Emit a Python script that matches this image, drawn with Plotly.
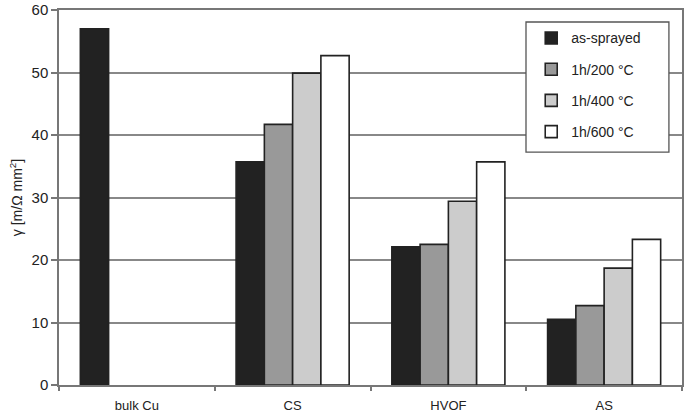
import plotly.graph_objects as go

categories = ["bulk Cu", "CS", "HVOF", "AS"]
series_names = ["as-sprayed", "1h/200 °C", "1h/400 °C", "1h/600 °C"]
as_sprayed = [57.0, 35.7, 22.1, 10.5]
h200 = [None, 41.7, 22.5, 12.7]
h400 = [None, 49.9, 29.4, 18.7]
h600 = [None, 52.7, 35.7, 23.3]
y_ticks = [0, 10, 20, 30, 40, 50, 60]

series_values = [as_sprayed, h200, h400, h600]
colors = ["#222222", "#999999", "#cccccc", "#ffffff"]

fig = go.Figure()
for i, (name, vals, col) in enumerate(zip(series_names, series_values, colors)):
    fig.add_trace(go.Bar(
        x=categories, y=vals, name=name,
        marker=dict(color=col, line=dict(color="#222222", width=1.6)),
        legendgroup=f"g{i}",
    ))

font_family = "Liberation Sans, Arial, sans-serif"
fig.update_layout(
    width=685, height=419,
    margin=dict(l=59, r=3, t=10, b=34),
    paper_bgcolor="white", plot_bgcolor="white",
    barmode="group", bargap=0.274, bargroupgap=0,
    font=dict(family=font_family, color="#222222"),
    legend=dict(
        x=0.758, y=0.967, xanchor="left", yanchor="top",
        borderwidth=0, bgcolor="rgba(0,0,0,0)",
        font=dict(size=14, color="#222222"),
        traceorder="grouped", tracegroupgap=10,
        itemwidth=30,
    ),
    showlegend=True,
    shapes=[dict(
        type="rect", xref="paper", yref="paper",
        x0=0.7496, x1=0.979, y0=0.621, y1=0.968,
        line=dict(color="#555555", width=1.3), fillcolor="white", layer="above",
    )],
)
fig.update_yaxes(
    range=[0, 60], tickvals=y_ticks, ticks="outside", ticklen=6,
    tickcolor="#777777", tickwidth=1.5,
    showline=True, linecolor="#777777", linewidth=1.5, mirror=True,
    showgrid=True, gridcolor="#888888", gridwidth=1.5,
    tickfont=dict(size=15, color="#222222", family=font_family),
    title=dict(text="γ [m/Ω mm<sup>2</sup>]", font=dict(size=14, color="#222222"), standoff=6),
    zeroline=False, automargin=False,
)
fig.update_xaxes(
    type="category", ticks="outside", tickson="boundaries", ticklen=4,
    tickcolor="#777777", tickwidth=1.5,
    showline=True, linecolor="#777777", linewidth=1.5, mirror=True,
    showgrid=False, automargin=False, ticklabelstandoff=8,
    tickfont=dict(size=13, color="#222222", family=font_family),
)

fig.write_html("out.html", config={"displayModeBar": False},
               post_script="document.body.style.margin='0';")
